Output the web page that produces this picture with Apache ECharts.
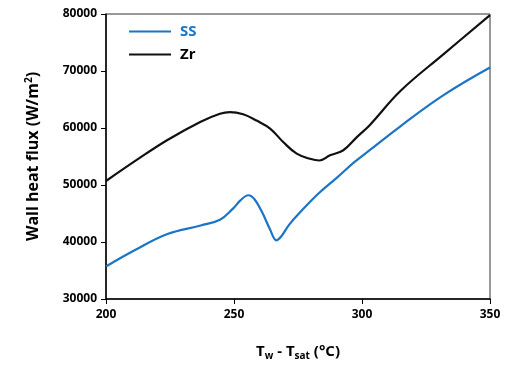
<!DOCTYPE html>
<html>
<head>
<meta charset="utf-8">
<script src="https://cdn.jsdelivr.net/npm/echarts@6/dist/echarts.min.js"></script>
<style>
  html, body { margin: 0; padding: 0; background: #fff; }
  #chart { width: 505px; height: 368px; }
</style>
</head>
<body>
<div id="chart"></div>
<script>
// Tw - Tsat (°C) vs wall heat flux (W/m2)
const xTicks = [200, 250, 300, 350]
const yTicks = [30000, 40000, 50000, 60000, 70000, 80000]

const ssX = [200, 211, 224, 237, 244.5, 249.7, 252.5, 255.6, 258, 261, 264, 266.6, 268.5, 271.5, 275.8, 283, 290, 297, 303, 315, 332, 350]
const ssY = [35700, 38500, 41400, 42900, 43900, 45900, 47300, 48200, 47500, 45200, 42300, 40300, 41000, 43000, 45200, 48500, 51200, 54000, 56100, 60300, 65800, 70600]

const zrX = [200, 212, 224, 237, 244.5, 248.4, 253.6, 258.8, 264.1, 269.3, 274.5, 279.7, 283.3, 287.5, 292.7, 298, 303, 315, 332, 350]
const zrY = [50700, 54400, 57900, 61100, 62500, 62800, 62400, 61300, 59900, 57500, 55500, 54600, 54300, 55200, 56100, 58400, 60500, 66500, 73000, 79800]

const zip = (xs, ys) => xs.map((x, i) => [x, ys[i]])

const chart = echarts.init(document.getElementById('chart'))
const labelFont = { color: '#000', fontSize: 12, fontWeight: 'bold', fontFamily: 'Open Sans' }

const option = {
  backgroundColor: '#fff',
  animation: false,
  grid: {
    left: 106,
    right: 15,
    top: 14,
    bottom: 69,
    show: true,
    borderColor: '#333',
    borderWidth: 1,
  },
  legend: {
    orient: 'vertical',
    left: 124,
    top: 19,
    itemGap: 8,
    itemWidth: 42,
    itemHeight: 2,
    icon: 'rect',
    textStyle: { fontSize: 15, fontWeight: 'bold', fontFamily: 'Open Sans', padding: [0, 0, 0, 4] },
    data: [
      { name: 'SS', textStyle: { color: '#1a75c6' } },
      { name: 'Zr', textStyle: { color: '#000' } },
    ],
  },
  xAxis: {
    type: 'value',
    min: xTicks[0],
    max: xTicks[xTicks.length - 1],
    interval: 50,
    name: '{a|T}{s|w}{a| - T}{s|sat}{a| (°C)}',
    nameLocation: 'middle',
    nameGap: 44,
    nameTextStyle: {
      rich: {
        a: { fontSize: 15, fontWeight: 'bold', fontFamily: 'Open Sans', color: '#000' },
        s: { fontSize: 10, fontWeight: 'bold', fontFamily: 'Open Sans', color: '#000', verticalAlign: 'bottom', padding: [8, 0, 0, 0] },
      },
    },
    axisLine: { show: true, lineStyle: { color: '#000', width: 1.5 } },
    axisTick: { show: true, length: 5, lineStyle: { color: '#000' } },
    axisLabel: { ...labelFont, margin: 10 },
    splitLine: { show: false },
  },
  yAxis: {
    type: 'value',
    min: yTicks[0],
    max: yTicks[yTicks.length - 1],
    interval: 10000,
    name: '{a|Wall heat flux (W/m}{s|2}{a|)}',
    nameLocation: 'middle',
    nameGap: 64,
    nameTextStyle: {
      rich: {
        a: { fontSize: 16, fontWeight: 'bold', fontFamily: 'Open Sans', color: '#000' },
        s: { fontSize: 10, fontWeight: 'bold', fontFamily: 'Open Sans', color: '#000', verticalAlign: 'top', padding: [0, 0, 8, 0] },
      },
    },
    axisLine: { show: true, lineStyle: { color: '#000', width: 1.5 } },
    axisTick: { show: true, length: 5, lineStyle: { color: '#000' } },
    axisLabel: { ...labelFont, margin: 9, formatter: v => String(v) },
    splitLine: { show: false },
  },
  series: [
    {
      name: 'SS',
      type: 'line',
      smooth: 0.4,
      showSymbol: false,
      lineStyle: { color: '#1a75c6', width: 2.2 },
      itemStyle: { color: '#1a75c6' },
      data: zip(ssX, ssY),
    },
    {
      name: 'Zr',
      type: 'line',
      smooth: 0.4,
      showSymbol: false,
      lineStyle: { color: '#111', width: 2.2 },
      itemStyle: { color: '#111' },
      data: zip(zrX, zrY),
    },
  ],
}
chart.setOption(option)
</script>
</body>
</html>
